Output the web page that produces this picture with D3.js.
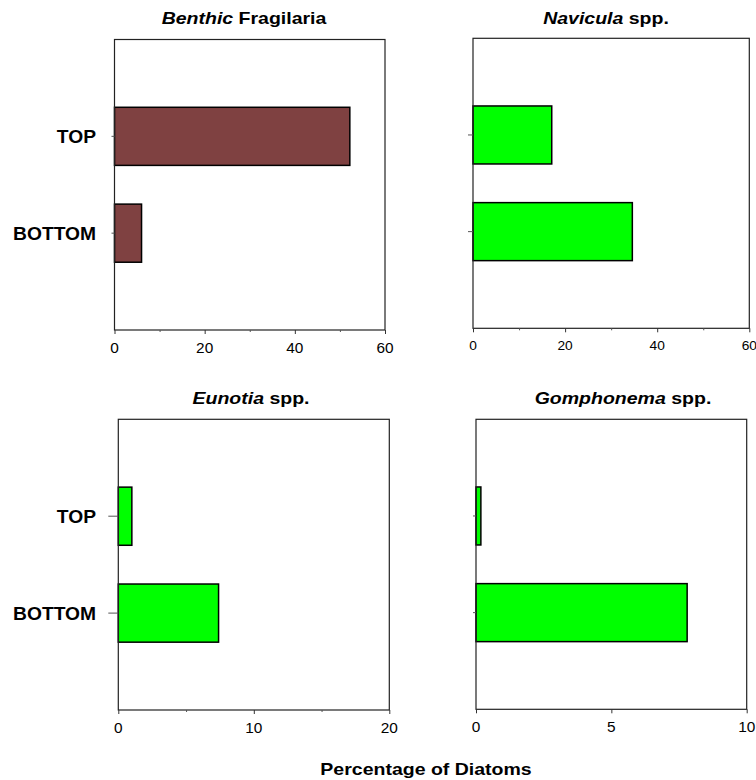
<html>
<head>
<script src="https://d3js.org/d3.v7.min.js"></script>
<style>
  body { margin: 0; background: #fff; }
  text { font-family: "Liberation Sans", Arial, sans-serif; fill: #000; }
</style>
</head>
<body>
<script>
// data
var categories = ["TOP", "BOTTOM"];
var titleItalic = ["Benthic", "Navicula", "Eunotia", "Gomphonema"];
var titleRest = ["Fragilaria", "spp.", "spp.", "spp."];
var topValues = [52.2, 17.1, 1.0, 0.18];
var bottomValues = [6.0, 34.6, 7.4, 7.8];
var xMax = [60, 60, 20, 10];
var majorTicks = [[0, 20, 40, 60], [0, 20, 40, 60], [0, 10, 20], [0, 5, 10]];
var minorTicks = [[10, 30, 50], [10, 30, 50], [5, 15], []];
var barColors = ["#7f4141", "#00ff00", "#00ff00", "#00ff00"];
var xLabel = "Percentage of Diatoms";

// panel frames (pixels)
var panels = [
  {x0: 114.5, x1: 385,   y0: 39.5,  y1: 330,   tx: 244,   ty: 24,  lb: 353, fs: 14,   yt: 3,  showCats: true},
  {x0: 473,   x1: 749.3, y0: 38.3,  y1: 328.3, tx: 606,   ty: 24,  lb: 350, fs: 12.5, yt: 5,  showCats: false},
  {x0: 118.3, x1: 389.3, y0: 419.3, y1: 710,   tx: 251,   ty: 404, lb: 733, fs: 14,   yt: 10, showCats: true},
  {x0: 476,   x1: 746.7, y0: 419.3, y1: 709.3, tx: 623,   ty: 404, lb: 732, fs: 14,   yt: 3,  showCats: false}
];

var svg = d3.select("body").append("svg")
    .attr("width", 756)
    .attr("height", 780);

// the source is stretched horizontally, so text gets a scaleX
function stretchedText(parent, x, y, sx, anchor, size, weight) {
  return parent.append("g")
      .attr("transform", "translate(" + x + "," + y + ") scale(" + sx + ",1)")
    .append("text")
      .attr("text-anchor", anchor)
      .style("font-size", size + "px")
      .style("font-weight", weight);
}

panels.forEach(function(p, i) {
  var g = svg.append("g");

  var x = d3.scaleLinear().domain([0, xMax[i]]).range([p.x0, p.x1]);
  var y = d3.scaleBand().domain(categories).range([p.y0, p.y1])
      .paddingInner(0.4).paddingOuter(0.7);

  var vals = [topValues[i], bottomValues[i]];

  // bars
  g.selectAll("rect.bar")
    .data(categories)
    .enter()
    .append("rect")
      .attr("class", "bar")
      .attr("x", x(0))
      .attr("y", function(d) { return y(d); })
      .attr("width", function(d, j) { return x(vals[j]) - x(0); })
      .attr("height", y.bandwidth())
      .style("fill", barColors[i])
      .style("stroke", "#000")
      .style("stroke-width", "1.5px");

  // frame
  g.append("rect")
      .attr("x", p.x0).attr("y", p.y0)
      .attr("width", p.x1 - p.x0).attr("height", p.y1 - p.y0)
      .style("fill", "none")
      .style("stroke", "#222")
      .style("stroke-width", "1.2px");

  // x axis, major + minor ticks
  var ax = g.append("g")
      .attr("transform", "translate(0," + p.y1 + ")")
      .call(d3.axisBottom(x).tickValues(majorTicks[i]).tickSize(4).tickFormat(""));
  ax.select(".domain").remove();
  ax.selectAll("line").style("stroke", "#333");

  var mx = g.append("g")
      .attr("transform", "translate(0," + p.y1 + ")")
      .call(d3.axisBottom(x).tickValues(minorTicks[i]).tickSize(2).tickFormat(""));
  mx.select(".domain").remove();
  mx.selectAll("line").style("stroke", "#555");

  majorTicks[i].forEach(function(t) {
    stretchedText(g, x(t), p.lb, 1.1, "middle", p.fs, "normal").text(t);
  });

  // y axis ticks
  var ay = g.append("g")
      .attr("transform", "translate(" + p.x0 + ",0)")
      .call(d3.axisLeft(y).tickSize(p.yt).tickFormat(""));
  ay.select(".domain").remove();
  ay.selectAll("line").style("stroke", "#555");

  if (p.showCats) {
    categories.forEach(function(c) {
      stretchedText(g, 96, y(c) + y.bandwidth() / 2 + 6.5, 1.1, "end", 17.5, "bold").text(c);
    });
  }

  // title
  var t = stretchedText(g, p.tx, p.ty, 1.22, "middle", 16, "bold");
  t.append("tspan").style("font-style", "italic").text(titleItalic[i]);
  t.append("tspan").text(" " + titleRest[i]);
});

stretchedText(svg, 426, 775, 1.22, "middle", 16, "bold").text(xLabel);
</script>
</body>
</html>
